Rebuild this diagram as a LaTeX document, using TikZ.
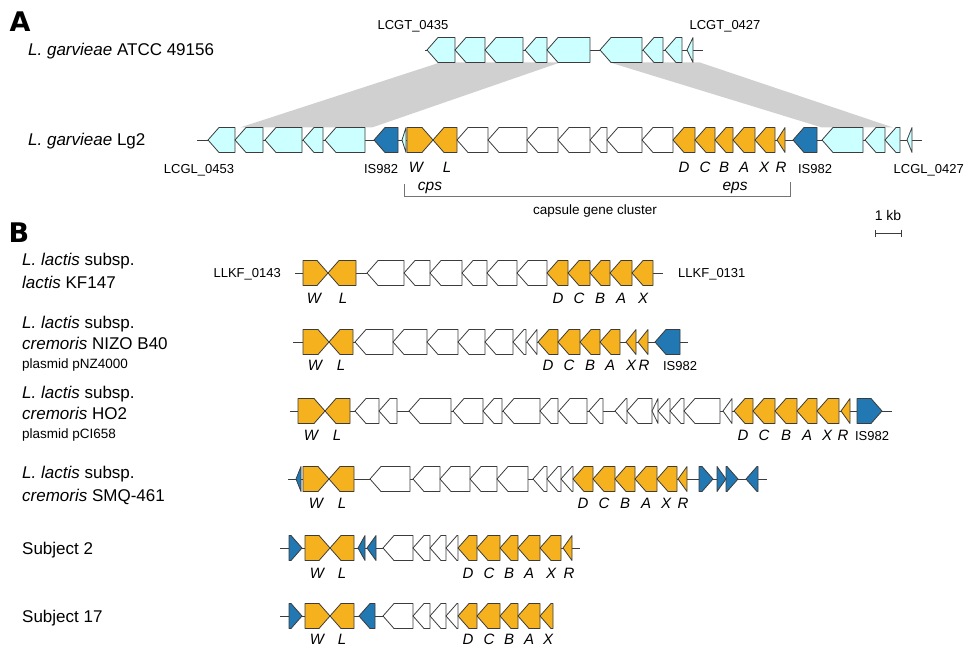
\documentclass[tikz,border=0pt]{standalone}
\usepackage{fontspec}
\setmainfont{Liberation Sans}
\newfontfamily\panelfont{DejaVu Sans}
\usepackage{xcolor}
\definecolor{hostcyan}{RGB}{204,255,255}
\definecolor{capsorange}{RGB}{245,178,30}
\definecolor{isblue}{RGB}{33,120,178}
\definecolor{outline}{RGB}{60,60,60}
\definecolor{shade}{RGB}{208,208,208}
\usetikzlibrary{arrows.meta}
\tikzset{
  flank/.style={draw=outline,fill=hostcyan,line width=0.8pt,line join=round},
  capsule/.style={draw=outline,fill=capsorange,line width=0.8pt,line join=round},
  insertion/.style={draw=outline,fill=isblue,line width=0.8pt,line join=round},
  orf/.style={draw=outline,fill=white,line width=0.8pt,line join=round},
  backbone/.style={draw=outline,line width=0.8pt},
  homology/.style={fill=shade},
  strain/.style={anchor=base west,inner sep=0pt,font=\fontsize{17}{20}\selectfont},
  note/.style={anchor=base west,inner sep=0pt,font=\fontsize{13.5}{16}\selectfont},
  locus/.style={anchor=base,inner sep=0pt,font=\fontsize{13}{15}\selectfont},
  genename/.style={anchor=base,inner sep=0pt,font=\fontsize{15}{17}\selectfont\itshape},
  panel/.style={inner sep=0pt,font=\fontsize{27}{30}\panelfont\bfseries}
}
% gene arrow: tip x, flat end x, row y, style
\newcommand{\gene}[4]{%
  \pgfmathsetmacro\hd{sign(#2-#1)*min(11,abs(#2-#1))}%
  \draw[#4] (#1,#3) -- ({#1+\hd},#3-12.5) -- (#2,#3-12.5) -- (#2,#3+12.5) -- ({#1+\hd},#3+12.5) -- cycle;}

\begin{document}
\begin{tikzpicture}[x=1pt,y=-1pt]
  \useasboundingbox (0,0) rectangle (965,647);

  % Panel letters
  \node[panel] (pA) at (20,22) {A};
  \node[panel] (pB) at (19,233) {B};

  % Homology between the two L. garvieae loci
  \fill[homology] (440,62.5) -- (560,62.5) -- (372,127.5) -- (240,127.5) -- cycle;
  \fill[homology] (610,62.5) -- (700,62.5) -- (893,127.5) -- (822,127.5) -- cycle;

  % L. garvieae ATCC 49156
  \node[strain] (atcc) at (28,56) {\textit{L. garvieae} ATCC 49156};
  \draw[backbone] (425,50) -- (703,50);
  \foreach \t/\e in {427/455,455/485,485/523,525/547,547/590,600/642,643/663,665/682,687/693}
    \gene{\t}{\e}{50}{flank};
  \node[locus] (lt435) at (413,30) {LCGT\_0435};
  \node[locus] (lt427) at (725,30) {LCGT\_0427};

  % L. garvieae Lg2
  \node[strain] (lg2) at (28,146) {\textit{L. garvieae} Lg2};
  \draw[backbone] (197,140) -- (922,140);
  \foreach \t/\e/\s in {208/235/flank,235/263/flank,265/302/flank,303/323/flank,325/365/flank,
      374/398/insertion,402/406/flank,433/407/capsule,433/457/capsule,
      457/488/orf,488/527/orf,527/558/orf,558/590/orf,590/607/orf,607/642/orf,642/673/orf,
      673/695/capsule,695/715/capsule,715/733/capsule,733/755/capsule,755/775/capsule,777/785/capsule,
      793/817/insertion,822/863/flank,865/885/flank,885/900/flank,907/912/flank}
    \gene{\t}{\e}{140}{\s};
  \node[locus] (lg453) at (199,173) {LCGL\_0453};
  \node[locus] (lgisa) at (381,173) {IS982};
  \node[locus] (lgisb) at (815,173) {IS982};
  \node[locus,anchor=base east] (lg427) at (964,173) {LCGL\_0427};
  \foreach \l/\x in {W/416,L/447,D/684,C/705,B/724,A/744,X/764,R/781}
    \node[genename] (lg\l) at (\x,172.5) {\l};
  \node[genename,font=\fontsize{15.5}{17}\selectfont\itshape] (cps) at (430,190) {cps};
  \node[genename,font=\fontsize{15.5}{17}\selectfont\itshape] (eps) at (735,190) {eps};

  % capsule gene cluster
  \draw[draw=black!55,line width=0.8pt] (404,184) |- (790,196) -- (790,182);
  \node[locus,font=\fontsize{13.5}{16}\selectfont] (cgc) at (595,214.5) {capsule gene cluster};

  % scale bar
  \node[locus,font=\fontsize{14}{16}\selectfont] (kb) at (888,220) {1 kb};
  \draw[{Bar[width=7pt]}-{Bar[width=7pt]},line width=0.8pt,draw=outline] (875,233) -- (902,233);

  % L. lactis subsp. lactis KF147
  \node[strain] (kfa) at (22,265) {\textit{L. lactis} subsp.};
  \node[strain] (kfb) at (22,288) {\textit{lactis} KF147};
  \draw[backbone] (295,273) -- (663,273);
  \foreach \t/\e/\s in {328/303/capsule,328/356/capsule,367/404/orf,404/430/orf,430/462/orf,462/487/orf,
      487/517/orf,517/547/orf,547/568/capsule,568/590/capsule,590/610/capsule,610/632/capsule,632/653/capsule}
    \gene{\t}{\e}{273}{\s};
  \node[locus,anchor=base east] (kf143) at (281,277) {LLKF\_0143};
  \node[locus,anchor=base west] (kf131) at (678,277) {LLKF\_0131};
  \foreach \l/\x in {W/314,L/343,D/558,C/579,B/600,A/621,X/643}
    \node[genename] (kf\l) at (\x,303) {\l};

  % L. lactis subsp. cremoris NIZO B40
  \node[strain] (nza) at (22,328) {\textit{L. lactis} subsp.};
  \node[strain] (nzb) at (22,349) {\textit{cremoris} NIZO B40};
  \node[note] (nzc) at (22,368) {plasmid pNZ4000};
  \draw[backbone] (293,342) -- (688,342);
  \foreach \t/\e/\s in {329/303/capsule,329/353/capsule,355/393/orf,393/427/orf,427/458/orf,458/485/orf,
      485/513/orf,513/526/orf,527/537/orf,538/558/capsule,558/580/capsule,580/600/capsule,600/620/capsule,
      626/636/capsule,638/648/capsule,655/680/insertion}
    \gene{\t}{\e}{342}{\s};
  \foreach \l/\x in {W/315,L/341,D/548,C/569,B/590,A/610,X/631,R/644}
    \node[genename] (nz\l) at (\x,370) {\l};
  \node[locus] (nzis) at (680,370) {IS982};

  % L. lactis subsp. cremoris HO2
  \node[strain] (hoa) at (22,398) {\textit{L. lactis} subsp.};
  \node[strain] (hob) at (22,419) {\textit{cremoris} HO2};
  \node[note] (hoc) at (22,438) {plasmid pCI658};
  \draw[backbone] (290,411) -- (892,411);
  \foreach \t/\e/\s in {325/298/capsule,325/350/capsule,355/379/orf,379/397/orf,409/451/orf,453/483/orf,
      483/502/orf,503/540/orf,540/558/orf,559/587/orf,589/603/orf,615/627/orf,627/652/orf,652/658/orf,
      658/670/orf,670/684/orf,684/720/orf,723/732/orf,734/753/capsule,753/775/capsule,775/797/capsule,
      797/817/capsule,817/839/capsule,841/850/capsule,882/857/insertion}
    \gene{\t}{\e}{411}{\s};
  \foreach \l/\x in {W/311,L/337,D/743,C/764,B/786,A/807,X/827,R/843}
    \node[genename] (ho\l) at (\x,440) {\l};
  \node[locus] (hois) at (872,440) {IS982};

  % L. lactis subsp. cremoris SMQ-461
  \node[strain] (sma) at (22,478) {\textit{L. lactis} subsp.};
  \node[strain] (smb) at (22,501) {\textit{cremoris} SMQ-461};
  \draw[backbone] (288,479) -- (767,479);
  \foreach \t/\e/\s in {296/301/insertion,329/303/capsule,329/354/capsule,370/410/orf,413/440/orf,
      440/470/orf,470/497/orf,497/528/orf,533/547/orf,547/561/orf,561/573/orf,573/593/capsule,
      593/615/capsule,615/635/capsule,635/657/capsule,657/677/capsule,678/687/capsule,
      713/699/insertion,726/717/insertion,738/726/insertion,746/758/insertion}
    \gene{\t}{\e}{479}{\s};
  \foreach \l/\x in {W/316,L/342,D/583,C/604,B/625,A/646,X/666,R/683}
    \node[genename] (sm\l) at (\x,508) {\l};

  % Subject 2
  \node[strain] (sja) at (22,554) {Subject 2};
  \draw[backbone] (280,548) -- (580,548);
  \foreach \t/\e/\s in {302/289/insertion,330/305/capsule,330/354/capsule,358/365/insertion,367/376/insertion,
      383/413/orf,413/430/orf,430/446/orf,446/458/orf,458/477/capsule,477/500/capsule,500/518/capsule,
      518/540/capsule,540/561/capsule,563/572/capsule}
    \gene{\t}{\e}{548}{\s};
  \foreach \l/\x in {W/317,L/342,D/468,C/489,B/509,A/529,X/551,R/569}
    \node[genename] (sj\l) at (\x,578) {\l};

  % Subject 17
  \node[strain] (ska) at (22,622) {Subject 17};
  \draw[backbone] (280,616) -- (553,616);
  \foreach \t/\e/\s in {302/289/insertion,330/305/capsule,330/354/capsule,359/375/insertion,
      383/413/orf,413/430/orf,430/446/orf,446/458/orf,458/477/capsule,477/500/capsule,500/518/capsule,
      518/540/capsule,540/553/capsule}
    \gene{\t}{\e}{616}{\s};
  \foreach \l/\x in {W/317,L/342,D/468,C/489,B/509,A/529,X/548}
    \node[genename] (sk\l) at (\x,644) {\l};
\end{tikzpicture}
\end{document}
